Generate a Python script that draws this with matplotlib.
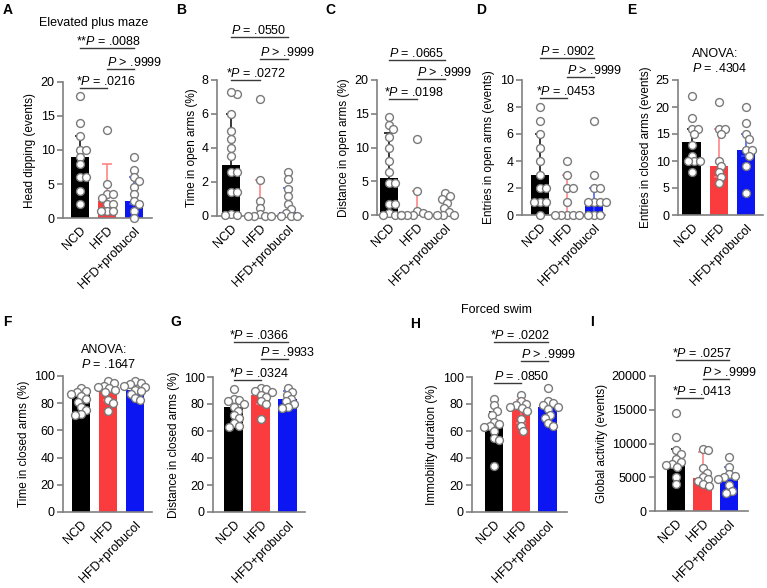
import matplotlib
matplotlib.use('Agg')
import matplotlib.pyplot as plt
import numpy as np
from matplotlib.transforms import blended_transform_factory

plt.rcParams['font.family'] = ['Liberation Sans', 'DejaVu Sans']
plt.rcParams['mathtext.fontset'] = 'custom'
plt.rcParams['mathtext.rm'] = 'Liberation Sans'
plt.rcParams['mathtext.it'] = 'Liberation Sans:italic'

groups = ['NCD', 'HFD', 'HFD+probucol']
bar_colors = ['#000000', '#FA3C3E', '#0B16F2']
err_colors = ['#000000', '#FF7C7C', '#3A55FF']

# ---------------- data (median bar, IQR error, individual points) -------------
A_ncd = [18, 14, 12, 10, 10, 9, 8, 6, 6, 4, 2]
A_hfd = [13, 5, 3.5, 3.5, 3, 2, 2, 1, 1, 1]
A_prob = [9, 7, 6, 5.5, 4.5, 3.5, 2.5, 2, 1, 0]
A_med = [9, 2.5, 2.5]
A_lo = [5, 1, 2]
A_hi = [12, 8, 6]

B_ncd = [7.2, 7.3, 6.0, 5.0, 4.5, 4.0, 3.5, 2.6, 2.6, 1.4, 1.4, 0.1, 0.05, 0.05]
B_hfd = [6.9, 2.1, 0.9, 0.5, 0.1, 0, 0, 0, 0]
B_prob = [2.6, 2.2, 1.6, 1.2, 0.7, 0.4, 0.2, 0, 0, 0]
B_med = [3.0, 0.05, 0.25]
B_lo = [0.1, 0, 0.25]
B_hi = [6.0, 2.1, 1.65]

C_ncd = [14.5, 13.3, 12.7, 11.5, 10, 8, 6.3, 4.8, 4.8, 1.6, 1.6, 0.3, 0, 0, 0]
C_hfd = [11.3, 3.6, 0.6, 0.3, 0, 0, 0, 0]
C_prob = [3.2, 2.8, 2.4, 1.8, 1.0, 0.4, 0, 0, 0]
C_med = [5.5, 0, 0.1]
C_lo = [0.3, 0, 0.1]
C_hi = [12.2, 3.6, 2.4]

D_ncd = [8, 7, 6, 5, 4, 3, 2, 2, 1, 1, 1, 0]
D_hfd = [4, 3, 2, 2, 1, 0, 0, 0, 0, 0]
D_prob = [7, 3, 2, 2, 1, 1, 1, 1, 0, 0, 0]
D_med = [3, 0, 1]
D_lo = [1, 0, 0]
D_hi = [6, 3, 2]

E_ncd = [22, 18, 16, 16, 15, 13, 11, 10, 10, 10, 8]
E_hfd = [21, 16, 16, 15, 10, 9, 8, 7, 6]
E_prob = [20, 17, 15, 14, 12, 12, 11, 9, 4]
E_med = [13.5, 9, 12]
E_lo = [10, 7, 11]
E_hi = [16, 16, 15]

F_ncd = [91, 89, 88, 87, 85, 83, 81, 77, 75, 72, 71]
F_hfd = [96, 95, 93, 92, 91, 90, 88, 82, 80, 74]
F_prob = [96, 95, 94, 93, 92, 90, 89, 87, 84, 82]
F_med = [86, 89, 90]
F_lo = [78, 82, 87]
F_hi = [90, 95, 94]

G_ncd = [91, 84, 83, 82, 80, 78, 75, 72, 70, 66, 64, 63]
G_hfd = [92, 91, 90, 89, 87, 85, 82, 80, 69]
G_prob = [92, 89, 87, 84, 82, 80, 78, 77]
G_med = [78, 87, 84]
G_lo = [68, 80, 80]
G_hi = [84, 91, 90]

H_ncd = [84, 79, 75, 72, 67, 65, 64, 63, 60, 55, 53, 34]
H_hfd = [87, 82, 80, 79, 78, 77, 75, 69, 64, 60]
H_prob = [92, 82, 81, 79, 78, 76, 72, 70, 66, 64]
H_med = [64, 78, 78]
H_lo = [56, 66, 70]
H_hi = [74, 83, 81]

I_ncd = [14500, 11000, 9000, 8500, 7700, 7200, 7000, 6800, 6500, 5000, 4000]
I_hfd = [9200, 9000, 6300, 5700, 5000, 4800, 4400, 4000, 3700]
I_prob = [8000, 6500, 5500, 5200, 5000, 4800, 3800, 3000, 2600]
I_med = [7000, 4900, 4700]
I_lo = [5300, 3800, 4700]
I_hi = [9200, 8800, 6500]

ylabels = {
    'A': 'Head dipping (events)', 'B': 'Time in open arms (%)',
    'C': 'Distance in open arms (%)', 'D': 'Entries in open arms (events)',
    'E': 'Entries in closed arms (events)', 'F': 'Time in closed arms (%)',
    'G': 'Distance in closed arms (%)', 'H': 'Immobility duration (%)',
    'I': 'Global activity (events)',
}
yticks = {
    'A': [0, 5, 10, 15, 20], 'B': [0, 2, 4, 6, 8], 'C': [0, 5, 10, 15, 20],
    'D': [0, 2, 4, 6, 8, 10], 'E': [0, 5, 10, 15, 20, 25],
    'F': [0, 20, 40, 60, 80, 100], 'G': [0, 20, 40, 60, 80, 100],
    'H': [0, 20, 40, 60, 80, 100], 'I': [0, 5000, 10000, 15000, 20000],
}
brackets = {
    'A': [(0, 1, '*', '.0216', '='), (1, 2, '', '.9999', '>'), (0, 2, '**', '.0088', '=')],
    'B': [(0, 1, '*', '.0272', '='), (1, 2, '', '.9999', '>'), (0, 2, '', '.0550', '=')],
    'C': [(0, 1, '*', '.0198', '='), (1, 2, '', '.9999', '>'), (0, 2, '', '.0665', '=')],
    'D': [(0, 1, '*', '.0453', '='), (1, 2, '', '.9999', '>'), (0, 2, '', '.0902', '=')],
    'G': [(0, 1, '*', '.0324', '='), (1, 2, '', '.9933', '='), (0, 2, '*', '.0366', '=')],
    'H': [(0, 1, '', '.0850', '='), (1, 2, '', '.9999', '>'), (0, 2, '*', '.0202', '=')],
    'I': [(0, 1, '*', '.0413', '='), (1, 2, '', '.9999', '>'), (0, 2, '*', '.0257', '=')],
}
anova = {'E': '.4304', 'F': '.1647'}

panels = {
    'A': (A_ncd, A_hfd, A_prob, A_med, A_lo, A_hi),
    'B': (B_ncd, B_hfd, B_prob, B_med, B_lo, B_hi),
    'C': (C_ncd, C_hfd, C_prob, C_med, C_lo, C_hi),
    'D': (D_ncd, D_hfd, D_prob, D_med, D_lo, D_hi),
    'E': (E_ncd, E_hfd, E_prob, E_med, E_lo, E_hi),
    'F': (F_ncd, F_hfd, F_prob, F_med, F_lo, F_hi),
    'G': (G_ncd, G_hfd, G_prob, G_med, G_lo, G_hi),
    'H': (H_ncd, H_hfd, H_prob, H_med, H_lo, H_hi),
    'I': (I_ncd, I_hfd, I_prob, I_med, I_lo, I_hi),
}

# ---------------- layout (pixels) ----------------
W, Hpx = 767, 588
# L, T, R, B, centre of first bar, centre of last bar
layout = {
    'A': (63, 82, 152, 218, 80, 134),
    'B': (217, 80, 303, 216, 231, 288),
    'C': (377, 80, 457, 215, 389, 445),
    'D': (522, 80, 605, 215, 540, 594),
    'E': (678, 80, 763, 215, 691.5, 746),
    'F': (63, 376, 152, 512, 81, 135),
    'G': (213, 377, 305, 512, 233.5, 287.5),
    'H': (472, 377, 567, 512, 494, 547.5),
    'I': (655, 376, 748, 511, 676, 729),
}
bracket_y = {
    'A': (88, 69, 48), 'B': (80, 59, 37), 'C': (99, 79, 60), 'D': (98, 77, 58),
    'G': (380, 359, 342), 'H': (383, 361, 342), 'I': (398, 379, 360),
}
letters = {'A': (3, 10), 'B': (176, 10), 'C': (325, 10), 'D': (476, 10), 'E': (627, 10),
           'F': (3, 322), 'G': (170, 322), 'H': (410, 324), 'I': (590, 322)}

fig = plt.figure(figsize=(W / 100, Hpx / 100), dpi=100)


def swarm(vals, ylim, hpx, unit, d=6.0):
    v = np.asarray(vals, float)
    yp = (v - ylim[0]) / (ylim[1] - ylim[0]) * hpx
    order = np.argsort(-yp, kind='stable')
    xs = np.zeros(len(v))
    placed = []
    for i in order:
        cands = [0.0]
        for (px, py) in placed:
            dy = yp[i] - py
            if abs(dy) < d:
                dx = np.sqrt(d * d - dy * dy)
                cands += [px + dx, px - dx]
        cands.sort(key=lambda c: (abs(c), -c))
        for c in cands:
            if all((c - px) ** 2 + (yp[i] - py) ** 2 >= d * d - 1e-6 for px, py in placed):
                xs[i] = c
                break
        placed.append((xs[i], yp[i]))
    return xs / unit


gray = '#808080'
for key, (ncd, hfd, prob, med, lo, hi) in panels.items():
    L, T, R, B, c0, c2 = layout[key]
    ax = fig.add_axes([L / W, 1 - B / Hpx, (R - L) / W, (B - T) / Hpx])
    unit = (c2 - c0) / 2.0
    ax.set_xlim((L - c0) / unit, (R - c0) / unit)
    yt = yticks[key]
    ylim = (yt[0], yt[-1])
    ax.set_ylim(ylim)
    x = np.arange(3)
    ax.bar(x, med, width=18.3 / unit, color=bar_colors, zorder=1)
    for i in range(3):
        ax.errorbar(x[i], med[i], yerr=[[med[i] - lo[i]], [hi[i] - med[i]]],
                    fmt='none', ecolor=err_colors[i], elinewidth=1.1,
                    capsize=3.4, capthick=1.1, zorder=2)
    for i, pts in enumerate((ncd, hfd, prob)):
        offs = swarm(pts, ylim, B - T, unit)
        ax.scatter(x[i] + offs, pts, s=32, facecolor='white', edgecolor='#7a7a7a',
                   linewidth=1.0, zorder=3, clip_on=False)
    for s in ('top', 'right'):
        ax.spines[s].set_visible(False)
    for s in ('left', 'bottom'):
        ax.spines[s].set_color(gray)
        ax.spines[s].set_linewidth(1.2)
    ax.set_yticks(yt)
    ax.set_yticklabels([str(t) for t in yt])
    ax.tick_params(axis='y', color=gray, width=1.2, length=4, labelsize=9, pad=2)
    ax.set_xticks(x)
    ax.set_xticklabels(groups, rotation=45, ha='right', rotation_mode='anchor')
    ax.tick_params(axis='x', length=0, labelsize=9, pad=5)
    ax.set_ylabel(ylabels[key], fontsize=8.5, labelpad=3)

    tr = blended_transform_factory(ax.transData, fig.transFigure)
    if key in brackets:
        for (x0, x1, star, pval, op), ypx in zip(brackets[key], bracket_y[key]):
            yf = 1 - ypx / Hpx
            ax.plot([x0, x1], [yf, yf], color='#3a3a3a', lw=1.0, transform=tr, clip_on=False)
            tx = x0 - (4.5 / unit if star else 0.0)
            ax.text(tx, 1 - (ypx - 3) / Hpx, star + r'$\mathit{P}$ ' + op + ' ' + pval,
                    transform=tr, ha='left', va='baseline', fontsize=9)
    if key in anova:
        ax.text(0, 1 - (T - 26) / Hpx, 'ANOVA:', transform=tr, ha='left', va='center', fontsize=9)
        ax.text(0, 1 - (T - 12) / Hpx, r'$\mathit{P}$ = ' + anova[key], transform=tr,
                ha='left', va='center', fontsize=9)

for k, (lx, ly) in letters.items():
    fig.text(lx / W, 1 - ly / Hpx, k, ha='left', va='center', fontsize=10, fontweight='bold')

fig.text(94 / W, 1 - 23 / Hpx, 'Elevated plus maze', ha='center', va='center', fontsize=9)
fig.text(496 / W, 1 - 310 / Hpx, 'Forced swim', ha='center', va='center', fontsize=9)

fig.savefig('out.png', dpi=100)
